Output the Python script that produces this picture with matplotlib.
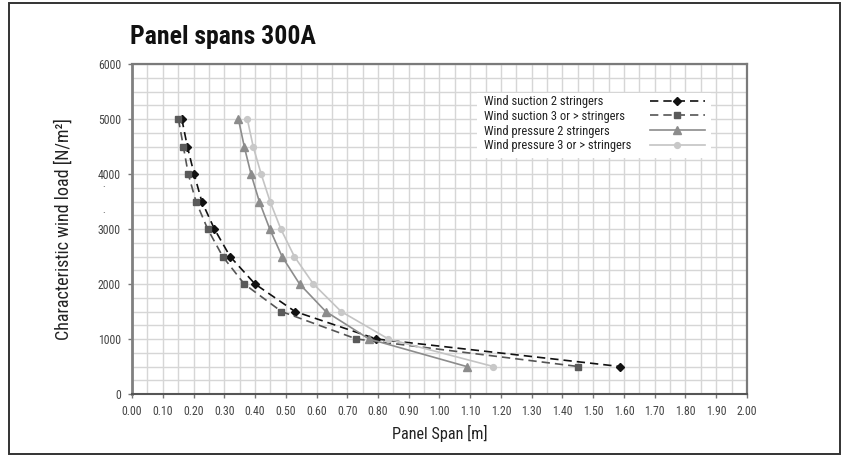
import matplotlib
matplotlib.use("Agg")
import matplotlib.pyplot as plt
from matplotlib.patches import Rectangle
from matplotlib.lines import Line2D
from matplotlib.ticker import MultipleLocator, FixedLocator
from matplotlib import font_manager

fl = font_manager.fontManager.ttflist
names = {f.name for f in fl}
chosen = None
for nm in ['Liberation Sans Narrow', 'Roboto Condensed', 'Open Sans Condensed', 'Noto Sans Condensed']:
    if nm in names:
        chosen = (nm, 'normal')
        break
if chosen is None:
    for nm in ['Noto Sans', 'Open Sans', 'DejaVu Sans']:
        if any(f.name == nm and str(f.stretch) in ('condensed', 'semi-condensed', '75', '87')
               for f in fl):
            chosen = (nm, 'condensed')
            break
if chosen is None:
    chosen = ('Liberation Sans', 'normal')
plt.rcParams['font.family'] = [chosen[0], 'DejaVu Sans']
plt.rcParams['font.stretch'] = chosen[1]

# ---------------- data ----------------
loads = [5000, 4500, 4000, 3500, 3000, 2500, 2000, 1500, 1000, 500]
suction_2 = [0.162, 0.180, 0.202, 0.227, 0.268, 0.319, 0.400, 0.530, 0.795, 1.587]
suction_3 = [0.151, 0.167, 0.183, 0.208, 0.246, 0.295, 0.365, 0.486, 0.730, 1.451]
pressure_2 = [0.346, 0.365, 0.387, 0.414, 0.448, 0.488, 0.545, 0.630, 0.771, 1.088]
pressure_3 = [0.375, 0.394, 0.420, 0.449, 0.484, 0.528, 0.590, 0.680, 0.834, 1.175]
labels = ["Wind suction 2 stringers", "Wind suction 3 or > stringers",
          "Wind pressure 2 stringers", "Wind pressure 3 or > stringers"]
x_ticks = [i / 10 for i in range(21)]
x_ticklabels = [f"{v:.2f}" for v in x_ticks]
y_ticks = [0, 1000, 2000, 3000, 4000, 5000, 6000]

W, H = 843, 455
fig = plt.figure(figsize=(W / 100, H / 100), dpi=100)
fig.patch.set_facecolor('white')

# outer frame
fig.add_artist(Rectangle((8.5 / W, 1.5 / H), (840 - 8.5) / W, (452.5 - 1.5) / H,
                         transform=fig.transFigure, fill=False, edgecolor='#333333', lw=1.4))

ax_l, ax_r, ax_t, ax_b = 132, 747, 64, 394
ax = fig.add_axes([ax_l / W, (H - ax_b) / H, (ax_r - ax_l) / W, (ax_b - ax_t) / H])

series = [
    (suction_2, dict(color='#111111', ls=(0, (5, 3)), marker='D', ms=4.3, mfc='#111111', mec='#111111')),
    (suction_3, dict(color='#555555', ls=(0, (5, 3)), marker='s', ms=5.0, mfc='#5a5a5a', mec='#5a5a5a')),
    (pressure_2, dict(color='#8c8c8c', ls='-', marker='^', ms=5.5, mfc='#8c8c8c', mec='#8c8c8c')),
    (pressure_3, dict(color='#c4c4c4', ls='-', marker='o', ms=4.2, mfc='#c8c8c8', mec='#c8c8c8')),
]
lines = []
for (xs, st), lab in zip(series, labels):
    ln, = ax.plot(xs, loads, lw=1.2, label=lab, zorder=3, **st)
    lines.append(ln)

ax.set_xlim(0, 2.0)
ax.set_ylim(0, 6000)
ax.xaxis.set_major_locator(FixedLocator(x_ticks))
ax.set_xticklabels(x_ticklabels)
ax.xaxis.set_minor_locator(MultipleLocator(0.05))
ax.yaxis.set_major_locator(FixedLocator(y_ticks))
ax.yaxis.set_minor_locator(MultipleLocator(250))
ax.set_axisbelow(True)
ax.grid(which='both', color='#d6d6d6', lw=1.0)
ax.tick_params(which='major', direction='out', length=3, width=1, color='#777777',
               labelsize=8.5, labelcolor='#444444', pad=5)
ax.tick_params(which='minor', length=0)

for side, col, lw in [('left', '#808080', 2.0), ('bottom', '#555555', 1.5),
                      ('top', '#7a7a7a', 1.6), ('right', '#7a7a7a', 1.6)]:
    ax.spines[side].set_color(col)
    ax.spines[side].set_linewidth(lw)

ax.set_xlabel("Panel Span [m]", fontsize=11.7, color='#222222', labelpad=5)
ax.set_ylabel("Characteristic wind load [N/m²]", fontsize=13, color='#222222', labelpad=18)

# title
fig.text(130 / W, 1 - 37 / H, "Panel spans 300A", fontsize=18.5, fontweight='bold',
         color='#111111', ha='left', va='center')

# legend background
bx0, bx1, by0, by1 = 477, 711, 93, 158
ax.add_patch(Rectangle(((bx0 - ax_l) / (ax_r - ax_l), (ax_b - by1) / (ax_b - ax_t)),
                       (bx1 - bx0) / (ax_r - ax_l), (by1 - by0) / (ax_b - ax_t),
                       transform=ax.transAxes, facecolor='white', edgecolor='none', zorder=1.5))

fs = 9.0
top_px = 95
# legend texts (left aligned)
blank = [Line2D([], [], ls='none') for _ in labels]
leg1 = ax.legend(blank, labels, loc='upper left', frameon=False, fontsize=fs,
                 handlelength=0, handletextpad=0, borderpad=0, borderaxespad=0,
                 labelspacing=0.14,
                 bbox_to_anchor=((484 - ax_l) / (ax_r - ax_l), (ax_b - top_px) / (ax_b - ax_t)))
for t in leg1.get_texts():
    t.set_color('#222222')
ax.add_artist(leg1)
# legend handles
leg2 = ax.legend(lines, [' '] * 4, loc='upper left', frameon=False, fontsize=fs,
                 handlelength=4.4, handletextpad=0, borderpad=0, borderaxespad=0,
                 labelspacing=0.14,
                 bbox_to_anchor=((650 - ax_l) / (ax_r - ax_l), (ax_b - top_px) / (ax_b - ax_t)))

# small stray marks on the left
fig.text(104 / W, 1 - 190 / H, "´", fontsize=6, color='#444444', ha='center', va='center')
fig.text(104 / W, 1 - 216 / H, "´", fontsize=6, color='#444444', ha='center', va='center')

fig.savefig("out.png", dpi=100, facecolor='white')
